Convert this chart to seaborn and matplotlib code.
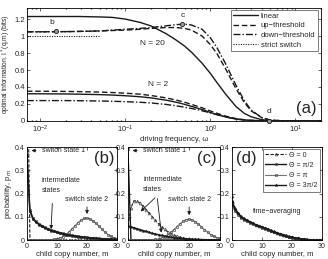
import matplotlib
matplotlib.use("Agg")

import numpy as np
import pandas as pd
import matplotlib.pyplot as plt
import seaborn as sns

# ---------------------------------------------------------------
# panel (a): optimal information vs driving frequency
# ---------------------------------------------------------------
omega = [0.007, 0.01, 0.02, 0.03, 0.05, 0.07, 0.1, 0.15, 0.2, 0.3, 0.4, 0.5,
         0.6, 0.8, 1.0, 1.2, 1.5, 2.0, 2.5, 3.0, 4.0, 5.0, 7.0, 10.0, 20.0]

lin_n20 = [1.23, 1.23, 1.23, 1.23, 1.225, 1.22, 1.2, 1.16, 1.12, 1.03, 0.95, 0.88,
           0.81, 0.68, 0.56, 0.45, 0.32, 0.17, 0.09, 0.05, 0.015, 0.005, 0.001, 0.0, 0.0]
up_n20 = [1.05, 1.05, 1.052, 1.055, 1.06, 1.065, 1.07, 1.08, 1.09, 1.1, 1.1, 1.09,
          1.07, 1.0, 0.9, 0.79, 0.62, 0.38, 0.22, 0.12, 0.04, 0.012, 0.002, 0.0, 0.0]
down_n20 = [1.05, 1.05, 1.052, 1.055, 1.06, 1.07, 1.08, 1.09, 1.1, 1.12, 1.135, 1.14,
            1.13, 1.08, 0.98, 0.86, 0.68, 0.42, 0.24, 0.13, 0.04, 0.01, 0.002, 0.0, 0.0]
lin_n2 = [0.32, 0.32, 0.318, 0.315, 0.31, 0.305, 0.297, 0.285, 0.272, 0.245, 0.22, 0.195,
          0.172, 0.135, 0.1, 0.075, 0.048, 0.022, 0.011, 0.006, 0.002, 0.001, 0.0, 0.0, 0.0]
up_n2 = [0.35, 0.35, 0.348, 0.345, 0.34, 0.335, 0.327, 0.315, 0.3, 0.272, 0.245, 0.22,
         0.195, 0.155, 0.118, 0.09, 0.058, 0.028, 0.014, 0.007, 0.002, 0.001, 0.0, 0.0, 0.0]
down_n2 = [0.24, 0.24, 0.24, 0.238, 0.235, 0.232, 0.227, 0.22, 0.212, 0.195, 0.178, 0.162,
           0.147, 0.12, 0.095, 0.073, 0.048, 0.024, 0.012, 0.006, 0.002, 0.001, 0.0, 0.0, 0.0]

switch_omega = [0.007, 0.051]
switch_info = [1.0, 1.0]

marked_omega = [0.0155, 0.47, 4.9]
marked_info = [1.055, 1.14, 0.0]
marked_labels = ["b", "c", "d"]

# ---------------------------------------------------------------
# panels (b)-(d): copy number distributions at four phases
# ---------------------------------------------------------------
m = list(range(31))
phase_labels = ["Θ = 0", "Θ = π/2", "Θ = π", "Θ = 3π/2"]

b_th0 = [0.95] + [0.0] * 30
b_th1 = [0.37, 0.13, 0.095, 0.08, 0.07, 0.062, 0.055, 0.049, 0.044, 0.04, 0.036,
         0.032, 0.029, 0.026, 0.023, 0.021, 0.019, 0.017, 0.015, 0.013, 0.012,
         0.01, 0.009, 0.008, 0.007, 0.006, 0.005, 0.0045, 0.004, 0.0035, 0.003]
b_th2 = [0.0, 0.0, 0.0, 0.0, 0.0, 0.0, 0.0, 0.0, 0.001, 0.003, 0.005,
         0.009, 0.015, 0.024, 0.035, 0.048, 0.062, 0.075, 0.086, 0.093, 0.095,
         0.091, 0.083, 0.072, 0.059, 0.046, 0.034, 0.024, 0.016, 0.01, 0.006]
b_th3 = [0.36, 0.125, 0.09, 0.077, 0.067, 0.059, 0.052, 0.046, 0.041, 0.037, 0.033,
         0.03, 0.027, 0.024, 0.021, 0.019, 0.017, 0.015, 0.013, 0.012, 0.011,
         0.009, 0.008, 0.007, 0.006, 0.005, 0.0045, 0.004, 0.0035, 0.003, 0.0025]

c_th0 = [0.06, 0.14, 0.17, 0.168, 0.158, 0.145, 0.13, 0.115, 0.1, 0.085, 0.07,
         0.057, 0.046, 0.036, 0.028, 0.021, 0.016, 0.012, 0.009, 0.006, 0.0045,
         0.003, 0.002, 0.0015, 0.001, 0.0008, 0.0005, 0.0003, 0.0002, 0.0001, 0.0]
c_th1 = [0.39] + [0.0] * 30
c_th2 = [0.0, 0.0, 0.0, 0.0, 0.0, 0.0, 0.0, 0.0, 0.001, 0.003, 0.005,
         0.009, 0.014, 0.022, 0.033, 0.045, 0.058, 0.07, 0.081, 0.088, 0.09,
         0.087, 0.079, 0.069, 0.057, 0.045, 0.034, 0.024, 0.017, 0.011, 0.007]
c_th3 = [0.06, 0.057, 0.053, 0.049, 0.045, 0.041, 0.037, 0.033, 0.029, 0.026, 0.023,
         0.02, 0.017, 0.015, 0.013, 0.011, 0.009, 0.008, 0.007, 0.006, 0.005,
         0.004, 0.0035, 0.003, 0.0025, 0.002, 0.0015, 0.001, 0.001, 0.0005, 0.0005]

d_th0 = [0.19, 0.14, 0.118, 0.103, 0.094, 0.086, 0.079, 0.073, 0.067, 0.062, 0.057,
         0.052, 0.047, 0.042, 0.037, 0.032, 0.028, 0.024, 0.02, 0.016, 0.013,
         0.01, 0.008, 0.006, 0.004, 0.003, 0.002, 0.0012, 0.0008, 0.0005, 0.0003]
d_th1 = [0.16, 0.13, 0.112, 0.099, 0.091, 0.084, 0.077, 0.071, 0.065, 0.06, 0.055,
         0.05, 0.045, 0.04, 0.035, 0.03, 0.026, 0.022, 0.018, 0.015, 0.012,
         0.009, 0.007, 0.005, 0.0035, 0.0025, 0.0015, 0.001, 0.0006, 0.0004, 0.0002]
d_th2 = [0.15, 0.125, 0.108, 0.096, 0.088, 0.081, 0.075, 0.069, 0.064, 0.059, 0.054,
         0.049, 0.044, 0.039, 0.034, 0.03, 0.026, 0.022, 0.018, 0.014, 0.011,
         0.009, 0.007, 0.005, 0.0035, 0.0025, 0.0015, 0.001, 0.0006, 0.0004, 0.0002]
d_th3 = [0.17, 0.135, 0.115, 0.1, 0.092, 0.085, 0.078, 0.072, 0.066, 0.061, 0.056,
         0.051, 0.046, 0.041, 0.036, 0.031, 0.027, 0.023, 0.019, 0.015, 0.012,
         0.009, 0.007, 0.005, 0.0035, 0.0025, 0.0015, 0.001, 0.0006, 0.0004, 0.0002]

# ---------------------------------------------------------------
# style
# ---------------------------------------------------------------
sns.set_theme(style="ticks")
plt.rcParams.update({
    "font.family": ["Liberation Sans", "DejaVu Sans"],
    "font.size": 5.5,
    "axes.linewidth": 0.6,
    "axes.edgecolor": "black",
    "xtick.direction": "in",
    "ytick.direction": "in",
    "xtick.top": True,
    "ytick.right": True,
    "xtick.major.size": 2,
    "ytick.major.size": 2,
    "xtick.minor.size": 1,
    "ytick.minor.size": 1,
    "xtick.major.width": 0.5,
    "ytick.major.width": 0.5,
    "xtick.labelsize": 5.5,
    "ytick.labelsize": 5.5,
    "xtick.major.pad": 2,
    "ytick.major.pad": 1.5,
    "legend.fontsize": 5.5,
})

fig = plt.figure(figsize=(3.28, 2.59), dpi=100)

# ---------------------------------------------------------------
# (a)
# ---------------------------------------------------------------
ax = fig.add_axes([0.082, 0.533, 0.897, 0.436])
lw = 1.0
sns.lineplot(x=omega, y=lin_n20, ax=ax, color="k", lw=lw, linestyle="-", label="linear")
sns.lineplot(x=omega, y=up_n20, ax=ax, color="k", lw=lw, linestyle=(0, (4, 2)), label="up\u2212threshold")
sns.lineplot(x=omega, y=down_n20, ax=ax, color="k", lw=lw, linestyle=(0, (5, 1.5, 1, 1.5)),
             label="down\u2212threshold")
sns.lineplot(x=switch_omega, y=switch_info, ax=ax, color="k", lw=0.8, linestyle=(0, (1, 1.2)),
             label="strict switch")
sns.lineplot(x=omega, y=lin_n2, ax=ax, color="k", lw=lw, linestyle="-")
sns.lineplot(x=omega, y=up_n2, ax=ax, color="k", lw=lw, linestyle=(0, (4, 2)))
sns.lineplot(x=omega, y=down_n2, ax=ax, color="k", lw=lw, linestyle=(0, (5, 1.5, 1, 1.5)))

ax.scatter(marked_omega, marked_info, s=9, facecolor="0.6", edgecolor="k", lw=0.6,
           zorder=5, clip_on=False)
for xo, yo, lab in zip(marked_omega, marked_info, marked_labels):
    ax.annotate(lab, (xo, yo), xytext=(-3 if lab == "b" else 0, 4), textcoords="offset points",
                ha="center", va="bottom", fontsize=6)

ax.set_xscale("log")
ax.set_xlim(0.007, 20)
ax.set_ylim(0, 1.33)
ax.set_yticks([0, 0.2, 0.4, 0.6, 0.8, 1.0, 1.2])
ax.set_yticklabels(["0", "0.2", "0.4", "0.6", "0.8", "1", "1.2"])
ax.set_xlabel("driving frequency, \u03c9", fontsize=5.5, labelpad=1)
ax.set_ylabel("optimal information, I$^*$(q,m) (bits)", fontsize=4.8, labelpad=1)
ax.text(0.385, 0.69, "N = 20", transform=ax.transAxes, fontsize=6, va="center")
ax.text(0.41, 0.32, "N = 2", transform=ax.transAxes, fontsize=6, va="center")
ax.text(0.985, 0.04, "(a)", transform=ax.transAxes, fontsize=12, ha="right", va="bottom")
leg = ax.legend(loc="upper right", frameon=True, fancybox=False, borderpad=0.35,
                handlelength=3.2, handletextpad=0.4, labelspacing=0.3,
                bbox_to_anchor=(0.99, 0.985), borderaxespad=0)
leg.get_frame().set_edgecolor("k")
leg.get_frame().set_linewidth(0.5)

# ---------------------------------------------------------------
# (b)-(d)
# ---------------------------------------------------------------
styles = [
    dict(color="k", lw=0.8, linestyle=(0, (3, 1.5)), marker="^", ms=2, mfc="none", mec="0.3", mew=0.5),
    dict(color="k", lw=1.0, linestyle="-", marker="o", ms=1.8, mfc="none", mec="0.3", mew=0.5),
    dict(color="0.45", lw=0.8, linestyle="-", marker="s", ms=1.8, mfc="none", mec="0.3", mew=0.5),
    dict(color="k", lw=1.0, linestyle="-", marker="*", ms=2.2, mfc="k", mec="k", mew=0.3),
]

panels = [
    ([0.082, 0.073, 0.275, 0.359], [b_th0, b_th1, b_th2, b_th3], "(b)"),
    ([0.390, 0.073, 0.280, 0.359], [c_th0, c_th1, c_th2, c_th3], "(c)"),
    ([0.707, 0.073, 0.275, 0.359], [d_th0, d_th1, d_th2, d_th3], "(d)"),
]

axes = []
for pos, series, tag in panels:
    bx = fig.add_axes(pos)
    for vals, lab, st in zip(series, phase_labels, styles):
        sns.lineplot(x=m, y=vals, ax=bx, label=lab, **st)
    bx.set_xlim(0, 30)
    bx.set_ylim(0, 0.4)
    bx.set_xticks([0, 10, 20, 30])
    bx.set_yticks([0, 0.1, 0.2, 0.3, 0.4])
    bx.set_yticklabels(["0", "0.1", "0.2", "0.3", "0.4"])
    bx.set_xlabel("child copy number, m", fontsize=5.5, labelpad=1)
    bx.tick_params(labelsize=5)
    axes.append(bx)

bax, cax, dax = axes
bax.set_ylabel("probability, p$_m$", fontsize=5.5, labelpad=1)

arrow = dict(arrowstyle="-|>", color="k", lw=0.6, mutation_scale=5)

# (b) annotations
bax.get_legend().remove()
bax.text(0.97, 0.96, "(b)", transform=bax.transAxes, fontsize=12, ha="right", va="top")
bax.annotate("switch state 1", xy=(0.6, 0.385), xytext=(5, 0.385), fontsize=5,
             va="center", arrowprops=arrow)
bax.text(5, 0.235, "intermediate\nstates", fontsize=5, va="center", linespacing=1.5)
bax.annotate("", xy=(8, 0.035), xytext=(8.5, 0.17), arrowprops=arrow)
bax.text(20, 0.16, "switch state 2", fontsize=5, ha="center", va="bottom")
bax.annotate("", xy=(20, 0.1), xytext=(20, 0.155), arrowprops=arrow)

# (c) annotations
cax.get_legend().remove()
cax.text(0.97, 0.96, "(c)", transform=cax.transAxes, fontsize=12, ha="right", va="top")
cax.annotate("switch state 1", xy=(0.6, 0.385), xytext=(5, 0.385), fontsize=5,
             va="center", arrowprops=arrow)
cax.text(5, 0.24, "intermediate\nstates", fontsize=5, va="center", linespacing=1.5)
cax.annotate("", xy=(3.5, 0.115), xytext=(9.5, 0.19), arrowprops=arrow)
cax.annotate("", xy=(11, 0.02), xytext=(9.5, 0.19), arrowprops=arrow)
cax.text(20, 0.16, "switch state 2", fontsize=5, ha="center", va="bottom")
cax.annotate("", xy=(20, 0.095), xytext=(20, 0.155), arrowprops=arrow)

# (d) annotations
dax.text(0.04, 0.96, "(d)", transform=dax.transAxes, fontsize=12, ha="left", va="top")
dax.text(15, 0.115, "time\u2212averaging", fontsize=5, ha="center")
lg = dax.legend(loc="upper right", frameon=True, fancybox=False, fontsize=5,
                borderpad=0.4, handlelength=3.0, handletextpad=0.4, labelspacing=0.45,
                bbox_to_anchor=(0.98, 0.98), borderaxespad=0)
lg.get_frame().set_edgecolor("k")
lg.get_frame().set_linewidth(0.5)

fig.savefig("out.png", dpi=100)
